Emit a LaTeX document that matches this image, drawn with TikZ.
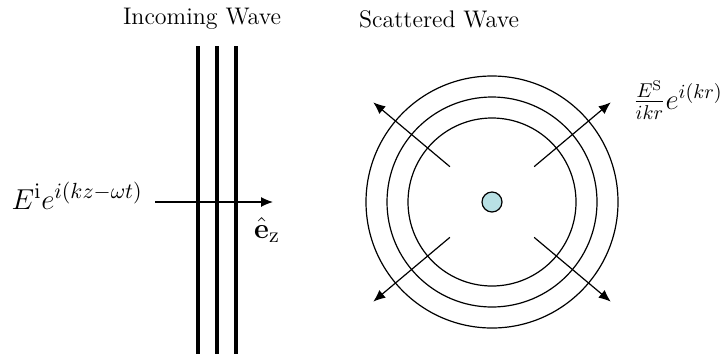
\documentclass[tikz,border=0pt]{standalone}
\usepackage{amsmath}
\usetikzlibrary{arrows.meta, positioning, calc}
\definecolor{scatcyan}{RGB}{184,224,228}

\begin{document}
\begin{tikzpicture}[
    x=0.5pt, y=-0.5pt,
    every node/.style={font=\fontsize{15.5}{18}\selectfont, inner sep=0pt},
    title/.style={font=\large},
    front/.style={line width=2pt},
    wave/.style={line width=0.6pt},
    ray/.style={-{Latex[length=6pt, width=5pt]}, line width=0.6pt}
]
\useasboundingbox (0,0) rectangle (726,354);

% titles
\node[title] (tin) at (202,19) {Incoming Wave};
\node[title] (tsc) at (439,19) {Scattered Wave};

% incoming plane wave fronts
\foreach \x in {198,217,236}
  \draw[front] (\x,46) -- (\x,354);

\coordinate (a0) at (155,202);
\coordinate (a1) at (273,202);
\draw[ray] (a0) -- (a1);
\node[anchor=east] (Ein) at (143,196) {$E^{\mathrm{i}}e^{i(kz-\omega t)}$};
\node (ez) at (267,230) {$\hat{\mathbf{e}}_{\mathrm{z}}$};

% scattered spherical wave
\coordinate (c) at (492,202);
\foreach \r in {84,105,126}
  \draw[wave] (c) circle (\r);
\node[circle, draw, line width=0.6pt, fill=scatcyan, minimum size=20*0.5pt] (sc) at (c) {};

\foreach \a in {40,140,220,320}
  \draw[ray] ($(c)+(\a:55)$) -- ($(c)+(\a:155)$);
\node[font=\Large] (Esc) at (678,100) {$\frac{E^{\mathrm{S}}}{ikr}e^{i(kr)}$};
\end{tikzpicture}
\end{document}
